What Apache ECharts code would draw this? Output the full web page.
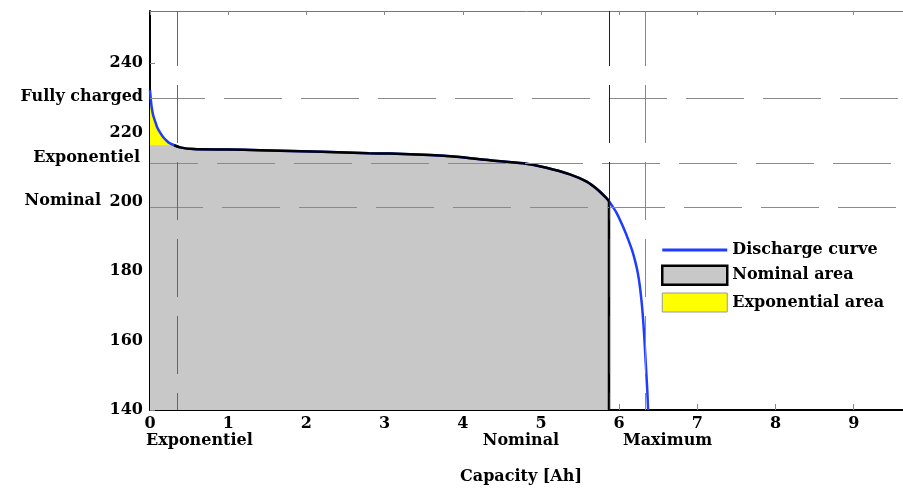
<!DOCTYPE html>
<html>
<head>
<meta charset="utf-8">
<style>
  html, body { margin: 0; padding: 0; background: #ffffff; }
  #chart { width: 903px; height: 491px; }
</style>
<script src="https://cdn.jsdelivr.net/npm/echarts@6/dist/echarts.min.js"></script>
</head>
<body>
<div id="chart"></div>
<script>
// ---- data ----
const capacityAh = [0, 0.01, 0.022, 0.04, 0.064, 0.09, 0.128, 0.17, 0.213, 0.25, 0.31, 0.384, 0.554, 1.0, 1.4, 2.2, 2.8, 3.07, 3.58, 3.92, 4.35, 4.77, 5.07, 5.37, 5.585, 5.73, 5.84, 5.87, 5.97, 6.05, 6.12, 6.17, 6.21, 6.24, 6.265, 6.285, 6.30, 6.32, 6.34, 6.36, 6.37];
const voltageV   = [232.2, 229.6, 227.2, 225.0, 223.3, 221.6, 220.0, 218.6, 217.6, 216.9, 216.3, 215.7, 215.2, 215.05, 214.9, 214.4, 214.0, 213.9, 213.5, 213.0, 212.0, 211.1, 209.8, 207.9, 205.8, 203.4, 201.0, 200.2, 196.7, 192.8, 188.9, 185.7, 182.4, 179.3, 175.6, 171.6, 168.0, 161.5, 153.5, 145.5, 140.0];

const xTicks = [0, 1, 2, 3, 4, 5, 6, 7, 8, 9];
const yTicks = [140, 160, 180, 200, 220, 240];

const expZoneEndAh = 0.31;      // end of exponential zone (curve reaches boundary)
const expZoneBoundaryV = 216.3; // top of nominal area / bottom of exponential area
const nominalCapacityAh = 5.87;
const exponentialCapacityAh = 0.35;
const maximumCapacityAh = 6.34;
const fullyChargedV = 229.8;
const exponentialV = 211.0;
const nominalV = 198.5;

const seriesNames = ['Discharge curve', 'Nominal area', 'Exponential area'];

// ---- derived series ----
const curve = capacityAh.map((c, i) => [c, voltageV[i]]);
const expArea = curve.filter(p => p[0] <= expZoneEndAh);
const nominalTop = curve.filter(p => p[0] >= expZoneEndAh && p[0] <= nominalCapacityAh);
const nominalArea = [[0, expZoneBoundaryV]].concat(nominalTop);
const nominalEndV = nominalTop[nominalTop.length - 1][1];
const nominalRight = [[nominalCapacityAh, nominalEndV], [nominalCapacityAh, 140]];

const FONT = '"DejaVu Serif", "Liberation Serif", serif';
const dash = [58, 19];
const SMOOTH = 0.25;

const chart = echarts.init(document.getElementById('chart'), null, { renderer: 'canvas' });

const option = {
  animation: false,
  backgroundColor: '#ffffff',
  grid: { left: 150, right: 0, top: 11, bottom: 81, containLabel: false },
  xAxis: [
    {
      type: 'value', position: 'bottom', min: 0, max: 9.63, interval: 1,
      axisLine: { show: true, onZero: false, lineStyle: { color: '#000', width: 2 } },
      axisTick: { show: true, inside: true, length: 6, lineStyle: { color: '#888', width: 1 } },
      axisLabel: {
        show: true, margin: 6, color: '#000', fontFamily: FONT, fontWeight: 'bold', fontSize: 16,
        showMaxLabel: false,
        formatter: v => (xTicks.indexOf(v) >= 0 ? String(v) : '')
      },
      splitLine: { show: false }
    },
    {
      type: 'value', position: 'top', min: 0, max: 9.63, interval: 1,
      axisLine: { show: true, onZero: false, lineStyle: { color: '#777', width: 1 } },
      axisTick: { show: true, inside: true, length: 4, lineStyle: { color: '#888', width: 1 } },
      axisLabel: { show: false },
      splitLine: { show: false }
    }
  ],
  yAxis: {
    type: 'value', min: 140, max: 255, interval: 20,
    axisLine: { show: true, onZero: false, lineStyle: { color: '#000', width: 2 } },
    axisTick: { show: true, inside: true, length: 5, lineStyle: { color: '#888', width: 1 } },
    axisLabel: {
      show: true, margin: 7, color: '#000', fontFamily: FONT, fontWeight: 'bold', fontSize: 16,
      showMaxLabel: false,
      formatter: v => (yTicks.indexOf(v) >= 0 ? String(v) : '')
    },
    splitLine: { show: false }
  },
  legend: {
    show: true,
    orient: 'vertical',
    left: 656, top: 237,
    itemWidth: 65, itemHeight: 19, itemGap: 6.5,
    selectedMode: false,
    textStyle: { color: '#000', fontFamily: FONT, fontWeight: 'bold', fontSize: 16 },
    data: [
      { name: seriesNames[0], icon: 'path://M0,0h65v3h-65z', itemStyle: { color: '#1f3cff' } },
      { name: seriesNames[1], icon: 'rect', itemStyle: { color: '#c8c8c8', borderColor: '#000', borderWidth: 2.5 } },
      { name: seriesNames[2], icon: 'rect', itemStyle: { color: '#ffff00', borderColor: '#999', borderWidth: 1 } }
    ]
  },
  series: [
    {
      name: seriesNames[2], type: 'line', data: expArea, symbol: 'none', z: 1,
      smooth: SMOOTH,
      lineStyle: { width: 0, opacity: 0 },
      areaStyle: { color: '#ffff00', opacity: 1, origin: 'start' },
      itemStyle: { color: '#ffff00' },
      silent: true
    },
    {
      name: seriesNames[1], type: 'line', data: nominalArea, symbol: 'none', z: 2,
      smooth: SMOOTH,
      lineStyle: { width: 0, opacity: 0 },
      areaStyle: { color: '#c8c8c8', opacity: 1, origin: 'start' },
      itemStyle: { color: '#c8c8c8' },
      silent: true
    },
    {
      name: seriesNames[0], type: 'line', data: curve, symbol: 'none', z: 3,
      smooth: SMOOTH,
      lineStyle: { color: '#1f3cff', width: 2.5 },
      itemStyle: { color: '#1f3cff' },
      silent: true,
      markLine: {
        silent: true, symbol: 'none', animation: false,
        label: { show: false },
        data: [
          { yAxis: fullyChargedV, lineStyle: { color: '#8a8a8a', width: 1.2, type: dash, dashOffset: 3 } },
          { yAxis: exponentialV, lineStyle: { color: '#8a8a8a', width: 1.2, type: dash, dashOffset: 10 } },
          { yAxis: nominalV, lineStyle: { color: '#8a8a8a', width: 1.2, type: dash, dashOffset: 5 } },
          { xAxis: exponentialCapacityAh, lineStyle: { color: '#666', width: 1, type: dash, dashOffset: 41 } },
          { xAxis: nominalCapacityAh, lineStyle: { color: '#222', width: 1, type: dash, dashOffset: 41 } },
          { xAxis: maximumCapacityAh, lineStyle: { color: '#888', width: 1, type: dash, dashOffset: 41 } }
        ]
      }
    },
    {
      name: 'nominal-border-top', type: 'line', data: nominalTop, symbol: 'none', z: 4,
      smooth: SMOOTH,
      lineStyle: { color: '#000', width: 2.5 },
      silent: true
    },
    {
      name: 'nominal-border-right', type: 'line', data: nominalRight, symbol: 'none', z: 4,
      lineStyle: { color: '#000', width: 2.5 },
      silent: true
    }
  ],
  graphic: [
    { type: 'text', x: 143, y: 97, style: { text: 'Fully charged', font: 'bold 16px ' + FONT, fill: '#000', align: 'right', verticalAlign: 'middle' } },
    { type: 'text', x: 140, y: 158, style: { text: 'Exponentiel', font: 'bold 16px ' + FONT, fill: '#000', align: 'right', verticalAlign: 'middle' } },
    { type: 'text', x: 101, y: 201, style: { text: 'Nominal', font: 'bold 16px ' + FONT, fill: '#000', align: 'right', verticalAlign: 'middle' } },
    { type: 'text', x: 146, y: 441, style: { text: 'Exponentiel', font: 'bold 16px ' + FONT, fill: '#000', align: 'left', verticalAlign: 'middle' } },
    { type: 'text', x: 521, y: 441, style: { text: 'Nominal', font: 'bold 16px ' + FONT, fill: '#000', align: 'center', verticalAlign: 'middle' } },
    { type: 'text', x: 623, y: 441, style: { text: 'Maximum', font: 'bold 16px ' + FONT, fill: '#000', align: 'left', verticalAlign: 'middle' } },
    { type: 'text', x: 521, y: 477, style: { text: 'Capacity [Ah]', font: 'bold 16px ' + FONT, fill: '#000', align: 'center', verticalAlign: 'middle' } }
  ]
};

chart.setOption(option);
</script>
</body>
</html>
